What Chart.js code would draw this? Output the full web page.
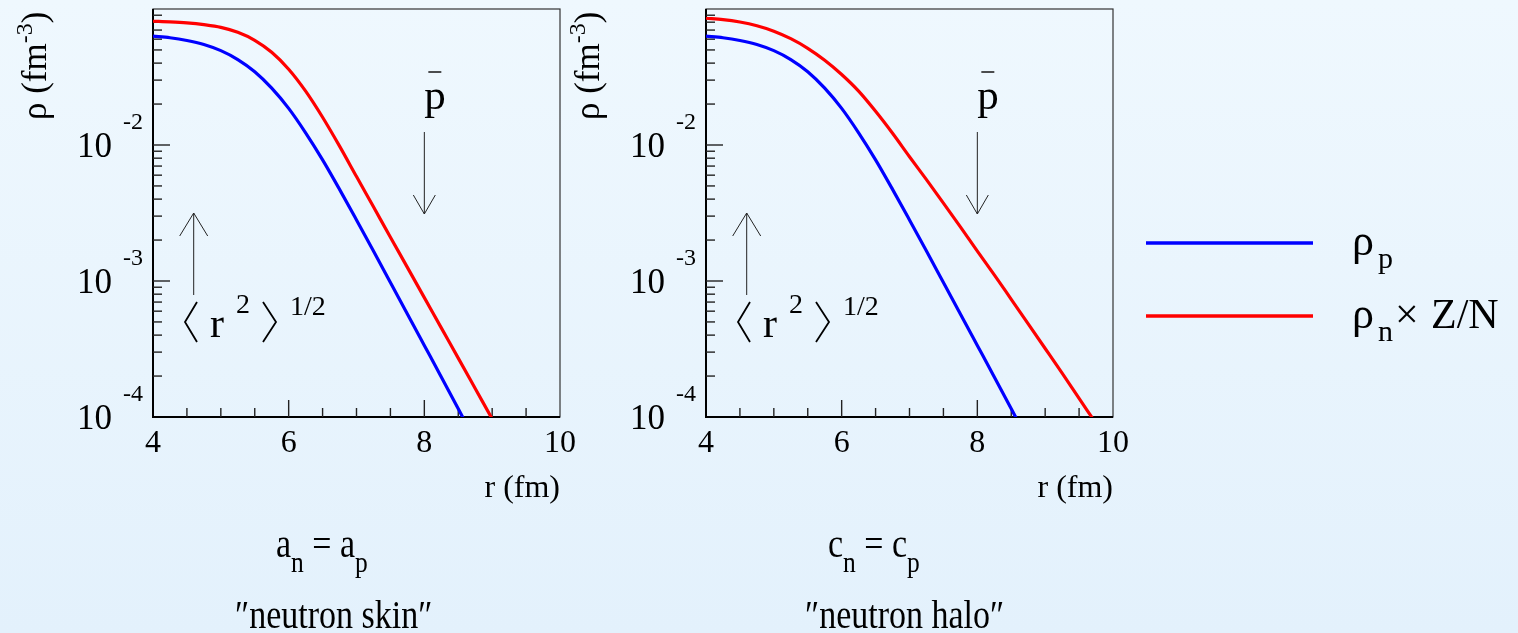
<!DOCTYPE html>
<html>
<head>
<meta charset="utf-8">
<script src="https://cdn.jsdelivr.net/npm/chart.js@4.4.1/dist/chart.umd.min.js"></script>
<style>
  html, body { margin: 0; padding: 0; }
  body {
    width: 1518px; height: 633px; position: relative; overflow: hidden;
    background: linear-gradient(#eff8fe, #e3f1fc);
  }
  canvas { position: absolute; left: 0; top: 0; }
</style>
</head>
<body>
<canvas id="skinChart" width="1518" height="633"></canvas>
<canvas id="haloChart" width="1518" height="633"></canvas>
<script>
// r (fm) grid and densities (fm^-3)
const radius = [4, 4.25, 4.5, 4.75, 5, 5.25, 5.5, 5.75, 6, 6.25, 6.5, 6.75, 7, 7.25, 7.5, 7.75, 8, 8.25, 8.5, 8.75, 9, 9.25, 9.5, 9.75, 10];
const rhoProton = [0.0632, 0.0615, 0.0587, 0.0548, 0.0494, 0.0425, 0.0346, 0.0262, 0.0186, 0.0123, 0.00778, 0.00472, 0.00281, 0.00166, 0.000976, 0.000573, 0.000336, 0.000197, 0.000115, 0.0000669, 0.0000390];
const rhoNeutronSkin = [0.0813, 0.0804, 0.0790, 0.0767, 0.0733, 0.0674, 0.0589, 0.0481, 0.0361, 0.0249, 0.0160, 0.00981, 0.00586, 0.00351, 0.00210, 0.00126, 0.000755, 0.000452, 0.000271, 0.000162, 0.0000968, 0.0000579];
const rhoNeutronHalo = [0.0855, 0.0836, 0.0802, 0.0753, 0.0687, 0.0605, 0.0514, 0.0420, 0.0330, 0.0249, 0.0177, 0.0122, 0.00820, 0.00556, 0.00374, 0.00250, 0.00166, 0.00111, 0.000733, 0.000484, 0.000319, 0.000210, 0.000137, 0.0000896, 0.0000584];

const xTickValues = [4, 6, 8, 10];
const xTickLabels = ['4', '6', '8', '10'];
const yTickValues = [1e-2, 1e-3, 1e-4];
const yTickExponents = ['-2', '-3', '-4'];

const FONT = '"Liberation Serif", "DejaVu Serif", serif';
const BLUE = '#0000ff';
const RED = '#ff0000';

function toPoints(values) {
    return values.map((v, i) => ({ x: radius[i], y: v }));
}

// draw text, optional horizontal squeeze; returns drawn width
function txt(ctx, s, x, y, size, align, sx) {
    ctx.save();
    ctx.font = size + 'px ' + FONT;
    ctx.textAlign = align || 'left';
    ctx.textBaseline = 'alphabetic';
    ctx.fillStyle = '#000';
    ctx.translate(x, y);
    if (sx) ctx.scale(sx, 1);
    ctx.fillText(s, 0, 0);
    const w = ctx.measureText(s).width * (sx || 1);
    ctx.restore();
    return w;
}

// parts: [text, size, dy]
function rich(ctx, parts, x, y, sx) {
    let cx = x;
    parts.forEach(p => { cx += txt(ctx, p[0], cx, y + p[2], p[1], 'left', sx); });
    return cx - x;
}

function line(ctx, pts) {
    ctx.beginPath();
    ctx.moveTo(pts[0][0], pts[0][1]);
    for (let i = 1; i < pts.length; i++) ctx.lineTo(pts[i][0], pts[i][1]);
    ctx.stroke();
}

function decoPlugin(cfg) {
    return {
        id: 'deco',
        beforeDatasetsDraw(chart) {
            const { ctx, chartArea: a } = chart;
            const x = chart.scales.x, y = chart.scales.y;
            ctx.save();
            // frame
            ctx.strokeStyle = '#333';
            ctx.lineWidth = 1.2;
            ctx.strokeRect(a.left, a.top, a.right - a.left, a.bottom - a.top);
            ctx.strokeStyle = '#000';
            ctx.lineWidth = 2;
            line(ctx, [[a.left, a.top], [a.left, a.bottom], [a.right, a.bottom]]);

            // ticks, drawn inside like ROOT
            ctx.lineWidth = 1.4;
            ctx.strokeStyle = '#222';
            for (let v = 4.5; v < 10; v += 0.5) {
                const px = x.getPixelForValue(v);
                const len = xTickValues.includes(v) ? 17 : 9;
                line(ctx, [[px, a.bottom], [px, a.bottom - len]]);
            }
            [-4, -3, -2].forEach(e => {
                for (let m = 1; m <= 9; m++) {
                    const v = m * Math.pow(10, e);
                    if (v <= 1e-4 * 1.0001) continue;
                    const py = y.getPixelForValue(v);
                    line(ctx, [[a.left, py], [a.left + (m === 1 ? 17 : 9), py]]);
                }
            });

            // tick labels
            xTickValues.forEach((v, i) => txt(ctx, xTickLabels[i], x.getPixelForValue(v), 452, 32, 'center'));
            yTickValues.forEach((v, i) => {
                const py = y.getPixelForValue(v);
                txt(ctx, '10', a.left - 41, py + 12, 35, 'right');
                txt(ctx, yTickExponents[i], a.left - 30, py - 16, 24, 'left');
            });

            // axis titles
            txt(ctx, 'r (fm)', a.right, 497, 32, 'right');
            ctx.save();
            ctx.translate(a.left - 107, 120);
            ctx.rotate(-Math.PI / 2);
            rich(ctx, [['\u03c1 (fm', 35, 0], ['-3', 24, -14], [')', 35, 0]], 0, 0);
            ctx.restore();
            ctx.restore();
        },
        afterDatasetsDraw(chart) {
            const { ctx, chartArea: a } = chart;
            const x = chart.scales.x;
            ctx.save();
            ctx.strokeStyle = '#222';
            ctx.lineWidth = 1;

            // antiproton arrow
            const ax = x.getPixelForValue(8);
            line(ctx, [[ax, 132], [ax, 214]]);
            line(ctx, [[ax - 11, 195], [ax, 214], [ax + 11, 195]]);
            txt(ctx, 'p', ax, 109, 43, 'left');
            ctx.lineWidth = 1.6;
            line(ctx, [[ax + 4, 72], [ax + 17, 72]]);

            // rms radius arrow
            ctx.lineWidth = 1;
            const bx = x.getPixelForValue(4.6);
            line(ctx, [[bx, 295], [bx, 213]]);
            line(ctx, [[bx - 14, 236], [bx, 213], [bx + 14, 236]]);
            ctx.lineWidth = 1.8;
            ctx.strokeStyle = '#000';
            const L = a.left;
            line(ctx, [[L + 44, 302], [L + 32, 322], [L + 44, 342]]);
            line(ctx, [[L + 110, 302], [L + 123, 322], [L + 110, 342]]);
            txt(ctx, 'r', L + 57, 337, 42, 'left');
            txt(ctx, '2', L + 83, 313, 28, 'left');
            txt(ctx, '1/2', L + 137, 315, 28, 'left');

            // caption below
            rich(ctx, cfg.caption1, cfg.capX1, 557, 0.85);
            txt(ctx, cfg.caption2, cfg.capX2, 628, 40, 'left', 0.85);

            if (cfg.legend) {
                const ds = chart.data.datasets;
                ctx.lineWidth = 3.3;
                ctx.strokeStyle = ds[0].borderColor;
                line(ctx, [[1146, 243], [1313, 243]]);
                ctx.strokeStyle = ds[1].borderColor;
                line(ctx, [[1146, 316], [1313, 316]]);
                txt(ctx, '\u03c1', 1352, 255, 44, 'left');
                txt(ctx, 'p', 1378, 268, 30, 'left');
                txt(ctx, '\u03c1', 1352, 328, 44, 'left');
                txt(ctx, 'n', 1378, 341, 30, 'left');
                txt(ctx, '\u00d7', 1395, 328, 42, 'left');
                txt(ctx, 'Z/N', 1431, 328, 42, 'left');
            }
            ctx.restore();
        }
    };
}

function makePanel(canvasId, left, right, neutronValues, cfg) {
    const canvas = document.getElementById(canvasId);
    return new Chart(canvas.getContext('2d'), {
        type: 'line',
        data: {
            datasets: [
                { label: '\u03c1p', data: toPoints(rhoProton), borderColor: BLUE },
                { label: '\u03c1n \u00d7 Z/N', data: toPoints(neutronValues), borderColor: RED }
            ]
        },
        options: {
            responsive: false,
            animation: false,
            layout: { padding: { left: left, right: 1518 - right, top: 9, bottom: 633 - 417 } },
            elements: {
                point: { radius: 0 },
                line: { borderWidth: 3.2, cubicInterpolationMode: 'monotone', fill: false }
            },
            scales: {
                x: { type: 'linear', min: 4, max: 10, display: false },
                y: { type: 'logarithmic', min: 1e-4, max: 0.1, display: false }
            },
            plugins: { legend: { display: false }, tooltip: { enabled: false } }
        },
        plugins: [decoPlugin(cfg)]
    });
}

makePanel('skinChart', 153, 560, rhoNeutronSkin, {
    caption1: [['a', 40, 0], ['n', 30, 15], [' = ', 40, 0], ['a', 40, 0], ['p', 30, 15]],
    capX1: 276,
    caption2: '\u2033neutron skin\u2033',
    capX2: 235,
    legend: false
});
makePanel('haloChart', 706, 1113, rhoNeutronHalo, {
    caption1: [['c', 40, 0], ['n', 30, 15], [' = ', 40, 0], ['c', 40, 0], ['p', 30, 15]],
    capX1: 828,
    caption2: '\u2033neutron halo\u2033',
    capX2: 805,
    legend: true
});
</script>
</body>
</html>
